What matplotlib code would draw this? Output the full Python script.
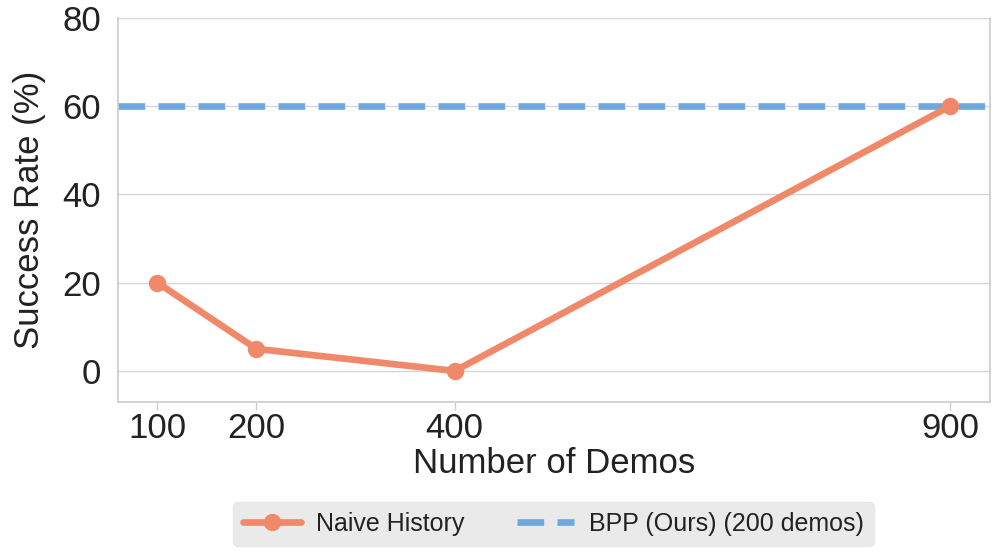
import matplotlib.pyplot as plt
import seaborn as sns

# Дані з графіка
demos = [100, 200, 400, 900]
naive_history = [20, 5, 0, 60]
bpp_rate = 60

sns.set_theme(style="whitegrid")
plt.rcParams['font.family'] = ['Liberation Sans', 'DejaVu Sans']

fig = plt.figure(figsize=(9.97, 5.52), dpi=100)
ax = fig.add_axes([0.118, 0.272, 0.875, 0.696])

ax.plot(demos, naive_history, color='#F0896A', linewidth=4.8, marker='o',
        markersize=11.5, label='Naive History', zorder=3)
ax.axhline(bpp_rate, color='#6FA8DC', linewidth=4.8, linestyle=(0, (4, 2)),
           label='BPP (Ours) (200 demos)', zorder=2)

ax.set_xlim(60, 940)
ax.set_ylim(-7, 80)
ax.set_xticks(demos)
ax.set_yticks([0, 20, 40, 60, 80])
ax.tick_params(axis='both', labelsize=25, colors='#222222')
ax.tick_params(axis='x', bottom=True, length=6, width=1, color='#cccccc', pad=1)
ax.tick_params(axis='y', pad=6)
ax.grid(axis='x', visible=False)
ax.grid(axis='y', color='#d5d5d5', linewidth=1)

ax.set_xlabel('Number of Demos', fontsize=25, color='#222222', labelpad=2)
ax.set_ylabel('Success Rate (%)', fontsize=25, color='#222222', labelpad=12)

ax.spines['top'].set_visible(False)
for s in ['left', 'right', 'bottom']:
    ax.spines[s].set_color('#cccccc')
    ax.spines[s].set_linewidth(1.2)

leg = ax.legend(loc='upper center', bbox_to_anchor=(0.5, -0.228), ncol=2,
                fontsize=18, frameon=True, facecolor='#e5e5e5', edgecolor='#e5e5e5',
                handlelength=2.3, handletextpad=0.6, columnspacing=2.1)
for t in leg.get_texts():
    t.set_color('#222222')

fig.savefig('out.png', dpi=100)
